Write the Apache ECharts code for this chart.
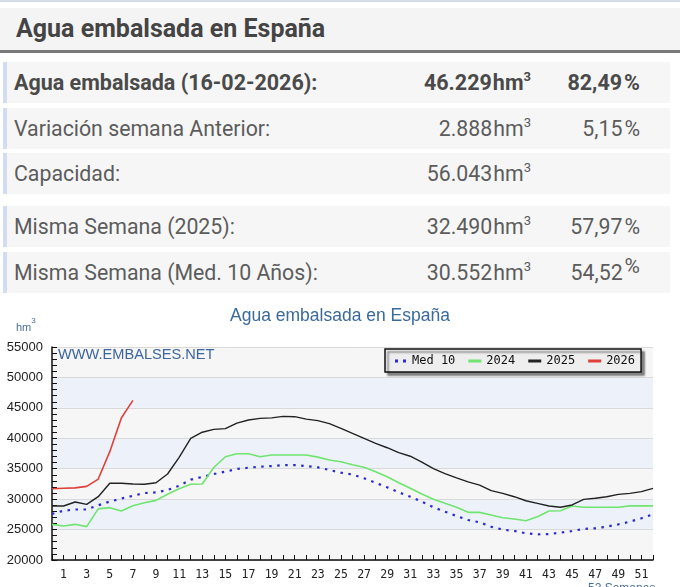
<!DOCTYPE html>
<html>
<head>
<meta charset="utf-8">
<title>Agua embalsada en España</title>
<script src="https://cdn.jsdelivr.net/npm/echarts@6/dist/echarts.min.js"></script>
<style>
    html, body { margin: 0; padding: 0; background: #fff; }
    body { width: 680px; height: 587px; position: relative; overflow: hidden; font-family: Roboto, "Liberation Sans", Arial, sans-serif; }
    .linea { position: absolute; left: 0; top: 0; width: 680px; height: 2px; background: #d5dee8; }
    .cab { position: absolute; left: 0; top: 8px; width: 680px; height: 42px; background: #f4f4f4; border-bottom: 3px solid #7a7a7a; }
    .cab h1 { margin: 0; position: absolute; left: 16px; top: 0; line-height: 42px; font-size: 25px; font-weight: bold; color: #444; }
    .fila { position: absolute; left: 3px; width: 663px; height: 41px; background: #f6f6f6; border-left: 4px solid #d2ddf2; color: #5c5c5c; font-size: 21.3px; }
    .fila > span { position: absolute; top: 0; line-height: 41px; white-space: nowrap; }
    .fila.b { font-weight: bold; color: #4a4a4a; font-size: 21.5px; }
    .et { left: 7px; }
    .val { right: 139px; }
    .pct { right: 30px; }
    .fila sup { font-size: 13px; position: relative; top: -9px; vertical-align: baseline; line-height: 0; }
    .fila sup.p { font-size: 21px; top: -7px; margin-left: 2px; }
    .u { margin-left: 1px; }
    .pc { margin-left: 2px; }
    #grafico { position: absolute; left: 0; top: 300px; width: 680px; height: 287px; }
</style>
</head>
<body>
<div class="linea"></div>
<div class="cab"><h1>Agua embalsada en España</h1></div>

<div class="fila b" style="top:62px"><span class="et">Agua embalsada (16-02-2026):</span><span class="val">46.229<span class="u">hm</span><sup>3</sup></span><span class="pct">82,49<span class="pc">%</span></span></div>
<div class="fila" style="top:108px"><span class="et">Variación semana Anterior:</span><span class="val">2.888<span class="u">hm</span><sup>3</sup></span><span class="pct">5,15<span class="pc">%</span></span></div>
<div class="fila" style="top:153px"><span class="et">Capacidad:</span><span class="val">56.043<span class="u">hm</span><sup>3</sup></span></div>
<div class="fila" style="top:206px"><span class="et">Misma Semana (2025):</span><span class="val">32.490<span class="u">hm</span><sup>3</sup></span><span class="pct">57,97<span class="pc">%</span></span></div>
<div class="fila" style="top:252px"><span class="et">Misma Semana (Med. 10 Años):</span><span class="val">30.552<span class="u">hm</span><sup>3</sup></span><span class="pct">54,52<sup class="p">%</sup></span></div>

<div id="grafico"></div>

<script>
//semanas del año (0..52)
var semanas = [];
for (var i = 0; i <= 52; i++) semanas.push(i);

//media 10 años
var med10 = [27560, 28100, 28300, 28300, 29000, 29600, 30100, 30552, 31000, 31100,
    31500, 32200, 33200, 33650, 34130, 34510, 34950, 35170, 35330, 35440,
    35600, 35600, 35440, 35230, 34790, 34350, 34050, 33420, 32700, 31940,
    31120, 30400, 29580, 28660, 27940, 27230, 26570, 26190, 25470, 25000,
    24770, 24390, 24220, 24250, 24490, 24770, 25100, 25210, 25470, 25860,
    26300, 26850, 27510];

//año 2024
var a2024 = [25860, 25600, 25860, 25480, 28400, 28600, 28050, 28900, 29400, 29800,
    30800, 31700, 32440, 32490, 35200, 36970, 37450, 37450, 36970, 37250,
    37250, 37250, 37250, 36900, 36430, 36150, 35650, 35230, 34510, 33690,
    32700, 31780, 30840, 29970, 29310, 28660, 27830, 27830, 27390, 26950,
    26740, 26460, 27120, 28050, 28100, 28870, 28660, 28660, 28660, 28660,
    28900, 28900, 28900];

//año 2025
var a2025 = [28870, 28870, 29530, 29150, 30400, 32600, 32600, 32490, 32450, 32700,
    34130, 36870, 40000, 41000, 41470, 41580, 42500, 43000, 43270, 43350,
    43600, 43550, 43150, 42900, 42400, 41620, 40800, 40000, 39150, 38450,
    37650, 37050, 36100, 35000, 34200, 33500, 32850, 32300, 31400, 30950,
    30400, 29740, 29310, 28870, 28660, 29040, 29970, 30140, 30400, 30790,
    30950, 31230, 31780];

//año 2026 (hasta la semana actual)
var a2026 = [31700, 31800, 31850, 32100, 33300, 37800, 43341, 46229];

var nombres = ['Med 10', '2024', '2025', '2026'];
var colores = ['#2b2bd0', '#6fe46f', '#222222', '#e0403a'];

function pares(valores) {
    var out = [];
    for (var k = 0; k < valores.length; k++) out.push([semanas[k], valores[k]]);
    return out;
}

var chart = echarts.init(document.getElementById('grafico'), null, { renderer: 'canvas' });

var option = {
    animation: false,
    title: {
        text: 'Agua embalsada en España',
        left: 'center',
        top: 2,
        textStyle: {
            color: '#3a6a9a',
            fontSize: 17.5,
            fontWeight: 'normal',
            fontFamily: '"Liberation Sans", Arial, sans-serif'
        }
    },
    legend: {
        left: 385,
        top: 49,
        orient: 'horizontal',
        padding: [6, 6, 5, 10],
        itemWidth: 13,
        itemHeight: 3,
        itemGap: 13,
        backgroundColor: '#eeeeee',
        borderColor: '#111',
        borderWidth: 1.5,
        borderRadius: 0,
        shadowColor: 'rgba(0,0,0,0.45)',
        shadowBlur: 2,
        shadowOffsetX: 3,
        shadowOffsetY: 3,
        textStyle: {
            fontFamily: '"DejaVu Sans Mono", monospace',
            fontSize: 12,
            color: '#111'
        },
        data: [
            { name: 'Med 10', icon: 'path://M0,0h3v3h-3zM8,0h3v3h-3z' },
            { name: '2024', icon: 'rect' },
            { name: '2025', icon: 'rect' },
            { name: '2026', icon: 'rect' }
        ]
    },
    grid: {
        left: 52,
        right: 27,
        top: 47,
        bottom: 27
    },
    xAxis: {
        type: 'value',
        min: 0,
        max: 52,
        interval: 1,
        axisLine: { show: true, lineStyle: { color: '#111', width: 1.5 } },
        axisTick: { show: true, inside: true, length: 5, lineStyle: { color: '#111' } },
        axisLabel: {
            margin: 9,
            color: '#222',
            fontSize: 11.5,
            fontFamily: '"DejaVu Sans Mono", monospace',
            formatter: function (v) {
                return (v % 2 === 1) ? String(v) : '';
            }
        },
        splitLine: { show: false }
    },
    yAxis: {
        type: 'value',
        min: 20000,
        max: 55000,
        interval: 5000,
        axisLine: { show: true, lineStyle: { color: '#111', width: 1.5 } },
        axisTick: { show: true, inside: true, length: 5, lineStyle: { color: '#111' } },
        minorTick: { show: true, splitNumber: 5, length: 5, lineStyle: { color: '#111' } },
        axisLabel: {
            margin: 9,
            color: '#222',
            fontSize: 13,
            fontFamily: '"Liberation Sans", Arial, sans-serif',
            formatter: function (v) {
                return String(v);
            }
        },
        splitLine: { show: true, lineStyle: { color: '#d9d9d9', width: 1 } },
        splitArea: { show: true, areaStyle: { color: ['#f6f6f6', '#edf2fa'] } }
    },
    graphic: [
        {
            type: 'text',
            left: 16,
            top: 17,
            style: {
                text: '{a|hm}{b|3}',
                rich: {
                    a: { fontSize: 11, fill: '#4a6f9a', fontFamily: '"Liberation Sans", Arial', verticalAlign: 'bottom', padding: [5, 0, 0, 0] },
                    b: { fontSize: 8, fill: '#4a6f9a', fontFamily: '"Liberation Sans", Arial', verticalAlign: 'top' }
                }
            }
        },
        {
            type: 'text',
            left: 58,
            top: 47,
            z: 10,
            style: {
                text: 'WWW.EMBALSES.NET',
                fill: '#3d659e',
                fontSize: 14.6,
                fontFamily: '"Liberation Sans", Arial, sans-serif'
            }
        },
        {
            type: 'text',
            left: 588,
            top: 283,
            style: {
                text: '52 Semanas',
                fill: '#4a6f9a',
                fontSize: 12,
                fontFamily: '"Liberation Sans", Arial, sans-serif'
            }
        }
    ],
    series: [
        {
            name: nombres[0],
            type: 'line',
            data: pares(med10),
            showSymbol: false,
            symbol: 'none',
            color: colores[0],
            lineStyle: { color: colores[0], width: 2.2, type: [2.5, 5.5] }
        },
        {
            name: nombres[1],
            type: 'line',
            data: pares(a2024),
            showSymbol: false,
            symbol: 'none',
            color: colores[1],
            lineStyle: { color: colores[1], width: 1.6 }
        },
        {
            name: nombres[2],
            type: 'line',
            data: pares(a2025),
            showSymbol: false,
            symbol: 'none',
            color: colores[2],
            lineStyle: { color: colores[2], width: 1.4 }
        },
        {
            name: nombres[3],
            type: 'line',
            data: pares(a2026),
            showSymbol: false,
            symbol: 'none',
            color: colores[3],
            lineStyle: { color: colores[3], width: 1.6 }
        }
    ]
};

chart.setOption(option);
</script>
</body>
</html>
